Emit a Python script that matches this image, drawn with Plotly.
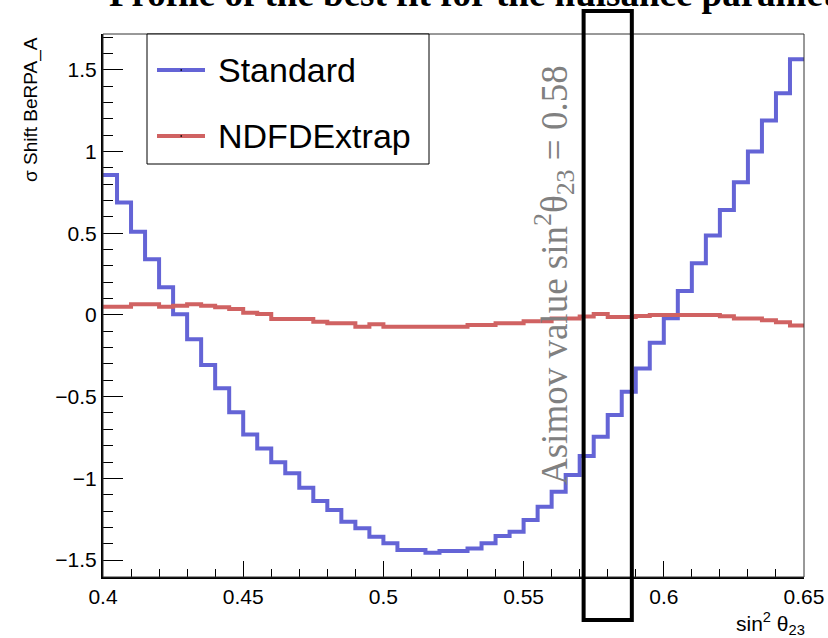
import numpy as np
import plotly.graph_objects as go

# ---------------- data ----------------
X_LOW = 0.40
X_HIGH = 0.65
N_BINS = 50

standard = [0.857, 0.688, 0.510, 0.341, 0.170, 0.005, -0.149, -0.306, -0.449, -0.596,
            -0.731, -0.818, -0.902, -0.969, -1.057, -1.139, -1.194, -1.266, -1.306, -1.357,
            -1.398, -1.439, -1.439, -1.455, -1.445, -1.445, -1.429, -1.398, -1.353, -1.327,
            -1.255, -1.174, -1.082, -0.980, -0.863, -0.745, -0.612, -0.470, -0.327, -0.170,
            -0.020, 0.147, 0.317, 0.486, 0.643, 0.813, 1.000, 1.190, 1.358, 1.566]

ndfd_extrap = [0.051, 0.051, 0.065, 0.065, 0.051, 0.057, 0.065, 0.057, 0.047, 0.037,
               0.014, 0.006, -0.024, -0.024, -0.024, -0.041, -0.051, -0.051, -0.072, -0.057,
               -0.072, -0.072, -0.072, -0.072, -0.072, -0.072, -0.062, -0.062, -0.051, -0.051,
               -0.039, -0.039, -0.022, -0.022, -0.010, 0.006, -0.012, -0.012, -0.006, 0.000,
               0.000, 0.000, 0.000, 0.000, -0.008, -0.022, -0.022, -0.033, -0.045, -0.065]

series_names = ["Standard", "NDFDExtrap"]
x_tick_vals = [0.40, 0.45, 0.50, 0.55, 0.60, 0.65]
y_tick_vals = [-1.5, -1.0, -0.5, 0.0, 0.5, 1.0, 1.5]
asimov_value = 0.58

title_text = "Profile of the best fit for the nuisance parameter"
x_title = "sin<sup>2</sup> θ<sub>23</sub>"
y_title = "σ Shift BeRPA_A"
asimov_text = "Asimov value sin<sup>2</sup>θ<sub>23</sub> = 0.58"

# ---------------- layout geometry ----------------
W, H = 828, 638
ML, MR, MT, MB = 103, 24, 34, 61
PW, PH = W - ML - MR, H - MT - MB


def xp(px):
    return (px - ML) / PW


def yp(py):
    return (H - MB - py) / PH


edges = np.linspace(X_LOW, X_HIGH, N_BINS + 1)

BLUE = "#6464d6"
RED = "#d06262"

fig = go.Figure()
for vals, name, col in [(standard, series_names[0], BLUE), (ndfd_extrap, series_names[1], RED)]:
    yv = list(vals) + [vals[-1]]
    fig.add_trace(go.Scatter(x=edges, y=yv, mode="lines", line=dict(color=col, width=4, shape="hv"),
                             name=name, showlegend=False, hoverinfo="skip"))

SANS = "Liberation Sans"
SERIF = "Liberation Serif"

fig.update_layout(
    width=W, height=H, autosize=False,
    margin=dict(l=ML, r=MR, t=MT, b=MB, pad=0, autoexpand=False),
    paper_bgcolor="white", plot_bgcolor="white",
    showlegend=False,
    xaxis=dict(range=[X_LOW, X_HIGH], tickvals=x_tick_vals, ticktext=[f"{v:g}" for v in x_tick_vals],
               automargin=False,
               ticks="inside", ticklen=16, tickwidth=1, tickcolor="black",
               minor=dict(dtick=0.01, tick0=0.4, ticks="inside", ticklen=8, tickwidth=1, tickcolor="black"),
               showgrid=False, zeroline=False, showline=True, linecolor="black", linewidth=2,
               tickfont=dict(family=SANS, size=21, color="black")),
    yaxis=dict(range=[-1.604, 1.72], tickvals=y_tick_vals,
               ticktext=[("−" if v < 0 else "") + f"{abs(v):g}" for v in y_tick_vals],
               automargin=False,
               ticks="inside", ticklen=20, tickwidth=1, tickcolor="black",
               minor=dict(dtick=0.1, tick0=0, ticks="inside", ticklen=10, tickwidth=1, tickcolor="black"),
               showgrid=False, zeroline=False, showline=True, linecolor="black", linewidth=2,
               tickfont=dict(family=SANS, size=21, color="black")),
)

shapes = []
# frame
shapes.append(dict(type="rect", xref="paper", yref="paper", x0=0, x1=1, y0=0, y1=1,
                   line=dict(color="#333333", width=1), layer="above"))
# legend box
shapes.append(dict(type="rect", xref="paper", yref="paper", x0=xp(147), x1=xp(429), y0=yp(164), y1=yp(34),
                   line=dict(color="black", width=1), fillcolor="white", layer="above"))
for py, col in [(70, BLUE), (136, RED)]:
    shapes.append(dict(type="line", xref="paper", yref="paper", x0=xp(157), x1=xp(205), y0=yp(py), y1=yp(py),
                       line=dict(color=col, width=4), layer="above"))
    shapes.append(dict(type="rect", xref="paper", yref="paper", x0=xp(180.5), x1=xp(182), y0=yp(py + 0.7),
                       y1=yp(py - 0.7), line=dict(width=0), fillcolor="black", layer="above"))
# Asimov box
half_w = 0.0086
shapes.append(dict(type="rect", xref="x", yref="paper", x0=asimov_value - half_w, x1=asimov_value + half_w,
                   y0=yp(620), y1=yp(11), line=dict(color="black", width=4), layer="above"))
fig.update_layout(shapes=shapes)

ann = []
ann.append(dict(text="<b>" + title_text + "</b>", xref="paper", yref="paper", x=xp(107), y=yp(16),
                xanchor="left", yanchor="bottom", showarrow=False,
                font=dict(family=SERIF, size=37, color="black")))
for py, name in [(70, series_names[0]), (136, series_names[1])]:
    ann.append(dict(text=name, xref="paper", yref="paper", x=xp(216), y=yp(py), xanchor="left", yanchor="middle",
                    showarrow=False, font=dict(family=SANS, size=34, color="black")))
ann.append(dict(text=asimov_text, xref="paper", yref="paper", x=xp(554), y=yp(275), xanchor="center",
                yanchor="middle", textangle=-90, showarrow=False,
                font=dict(family=SERIF, size=37, color="#808080")))
ann.append(dict(text=y_title, xref="paper", yref="paper", x=xp(31), y=yp(110), xanchor="center", yanchor="middle",
                textangle=-90, showarrow=False, font=dict(family=SANS, size=19, color="black")))
ann.append(dict(text=x_title, xref="paper", yref="paper", x=xp(807), y=yp(623), xanchor="right", yanchor="middle",
                showarrow=False, font=dict(family=SANS, size=21, color="black")))
fig.update_layout(annotations=ann)

fig.write_html("out.html", config={"displayModeBar": False, "responsive": False},
               post_script="document.body.style.margin='0';document.body.style.padding='0';"
                           "document.body.style.overflow='hidden';")
